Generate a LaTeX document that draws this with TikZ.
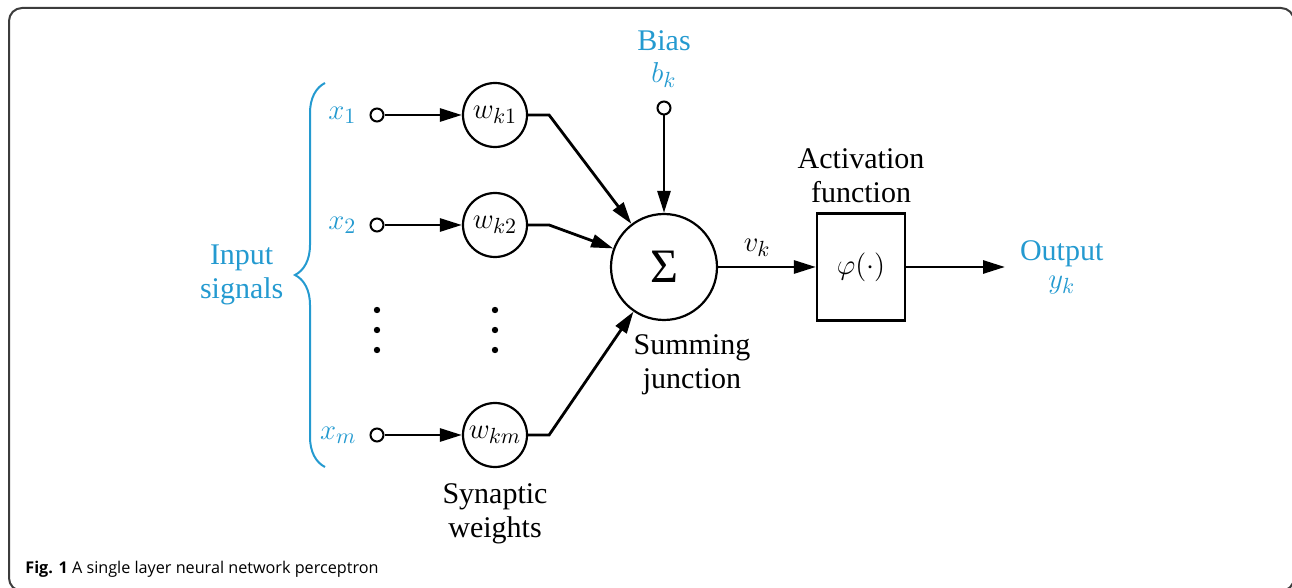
\documentclass[tikz,border=0pt]{standalone}
\usepackage{fontspec}
\setmainfont{Liberation Serif}
\newfontfamily\capfont{Open Sans}
\usepackage{xcolor}
\usepackage{tikz}
\usetikzlibrary{arrows.meta, positioning, decorations.pathreplacing, calc}
\definecolor{sigblue}{RGB}{36,154,208}
\definecolor{framegray}{RGB}{60,60,60}
\tikzstyle{terminal} = [circle, draw=black, line width=1pt, fill=white, minimum size=6.5pt, inner sep=0pt]
\tikzstyle{weight} = [circle, draw=black, line width=1.1pt, minimum size=32pt, inner sep=0pt]
\tikzstyle{summer} = [circle, draw=black, line width=1.1pt, minimum size=53pt, inner sep=0pt]
\tikzstyle{actbox} = [rectangle, draw=black, line width=1.1pt, minimum width=44pt, minimum height=53.5pt]
\tikzstyle{signal} = [text=sigblue]
\tikzstyle{arrow} = [line width=1.4pt, -{Triangle[length=11pt, width=6.5pt]}]
\tikzstyle{brace} = [draw=sigblue, line width=1pt, decorate, decoration={brace, amplitude=15pt}]

\begin{document}
\begin{tikzpicture}[x=0.5pt, y=-0.5pt, font=\fontsize{15}{17}\selectfont]
    \clip (0,0) rectangle (1292,588);
    % Frame
    \draw[framegray, line width=1pt, rounded corners=6.5pt] (9,8) rectangle (1294,591);

    % Input terminals
    \node[terminal] (t1) at (377,115) {};
    \node[terminal] (t2) at (377,225) {};
    \node[terminal] (tm) at (377,435) {};
    \node[signal, left=3pt of t1] (x1) {$x_1$};
    \node[signal, left=3pt of t2] (x2) {$x_2$};
    \node[signal, left=3pt of tm] (xm) {$x_m$};

    % Synaptic weights
    \node[weight] (w1) at (495,115) {$w_{k1}$};
    \node[weight] (w2) at (495,225) {$w_{k2}$};
    \node[weight] (wm) at (495,435) {$w_{km}$};
    \node[below=4pt of wm, align=center] (synlabel) {Synaptic\\weights};
    \foreach \y in {310,330,350} {
        \fill (377,\y) circle (1.6pt);
        \fill (495,\y) circle (1.6pt);
    }

    % Input brace
    \coordinate (bb) at (325,467);
    \coordinate (bt) at (325,83);
    \draw[brace] (bb) -- (bt) node[signal, midway, left=17pt, align=center] (insig) {Input\\signals};

    % Summing junction and bias
    \node[summer] (sum) at (664,267) {\fontsize{24}{26}\selectfont Σ};
    \node[below=3pt of sum, xshift=14pt, align=center] (sumlabel) {Summing\\junction};
    \node[terminal] (tb) at (664,108) {};
    \node[signal, align=center] (bias) at (664,59) {Bias\\[-1pt]$b_k$};

    % Activation
    \node[actbox] (box) at (861,267) {$\varphi(\cdot)$};
    \node[above=1.5pt of box, align=center] (actlabel) {Activation\\function};
    \coordinate (out) at (1005,267);
    \node[signal, right=4pt of out, align=center] (outlabel) {Output\\[-3pt]$y_k$};

    % Connections
    \draw[arrow] (t1) -- (w1);
    \draw[arrow] (t2) -- (w2);
    \draw[arrow] (tm) -- (wm);
    \draw[arrow] (w1.east) -- ++(21,0) -- (sum);
    \draw[arrow] (w2.east) -- ++(21,0) -- (sum);
    \draw[arrow] (wm.east) -- ++(21,0) -- (sum);
    \draw[arrow] (tb) -- (sum);
    \draw[arrow] (sum) -- node[pos=0.4, above=1pt] {$v_k$} (box);
    \draw[arrow] (box) -- (out);

    % Caption
    \node[anchor=base west, inner sep=0pt] (caption) at (25,574)
        {\capfont\fontsize{8.1}{10}\selectfont\textbf{Fig. 1} A single layer neural network perceptron};
\end{tikzpicture}
\end{document}
